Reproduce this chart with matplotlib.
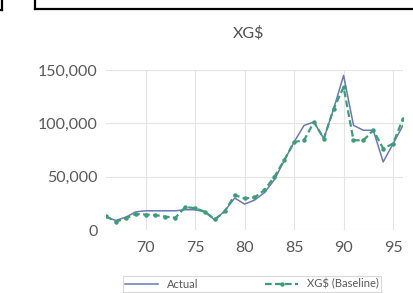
import matplotlib
matplotlib.use("Agg")
import matplotlib.pyplot as plt
from matplotlib.lines import Line2D

years = list(range(66, 97))
actual = [12000, 9000, 12000, 17000, 18000, 18000, 18000, 18000, 19000, 19000,
          17000, 9300, 18000, 30000, 24300, 28000, 35000, 47000, 65000, 82500,
          98000, 101200, 85700, 113700, 144900, 98100, 93500, 93500, 63800, 81000,
          98100]
baseline = [13000, 7800, 11000, 15000, 14500, 14000, 12500, 11500, 21500, 20500,
            17000, 10000, 17500, 32700, 29600, 30500, 37400, 49800, 65400, 82500,
            84100, 101200, 85700, 113700, 134000, 84100, 84100, 93500, 76400, 81000,
            104400]
yticks = [0, 50000, 100000, 150000]
ytick_labels = ["0", "50,000", "100,000", "150,000"]
xticks = [70, 75, 80, 85, 90, 95]
title = "XG$"
series_names = ["Actual", "XG$ (Baseline)"]

W, H = 414, 293
fig = plt.figure(figsize=(W / 100, H / 100), dpi=100)
plt.rcParams['font.family'] = ['Lato', 'DejaVu Sans']

def fx(px):
    return px / W

def fy(py):
    return 1 - py / H

ax = fig.add_axes([fx(106), fy(230), fx(403) - fx(106), fy(70) - fy(230)])
ax.set_xlim(66, 96)
ax.set_ylim(0, 150000)

for v in xticks:
    ax.axvline(v, color='#e4e4e4', lw=0.8, zorder=0)
for v in yticks:
    ax.axhline(v, color='#e4e4e4', lw=0.8, zorder=0)

ax.plot(years, actual, color='#6b78b4', lw=1.1, zorder=3, label=series_names[0])
ax.plot(years, baseline, color='#3f9c7a', lw=1.6, ls=(0, (3, 1.5)), marker='o',
        markersize=2.2, zorder=4, label=series_names[1])

ax.set_yticks(yticks)
ax.set_yticklabels(ytick_labels)
ax.set_xticks(xticks)
ax.set_xticklabels([str(v) for v in xticks])
ax.tick_params(axis='both', length=0, labelsize=11.5, colors='#595959')
ax.tick_params(axis='y', pad=6)
ax.tick_params(axis='x', pad=8)
for s in ax.spines.values():
    s.set_visible(False)

fig.text(fx(249), fy(33), title, ha='center', va='center', fontsize=11.5, color='#505050')

leg = fig.legend(handles=ax.get_lines()[-2:], labels=series_names, loc='lower center',
                 bbox_to_anchor=(fx(252), fy(292)), ncol=2, fontsize=8,
                 frameon=True, fancybox=False, edgecolor='#d0d0d0',
                 handlelength=3.0, columnspacing=6.0, borderpad=0.2,
                 borderaxespad=0.0, labelcolor='#595959')
leg.get_frame().set_linewidth(0.8)

# screenshot decorations at the top
fig.add_artist(Line2D([fx(35), fx(414)], [fy(9), fy(9)], color='black', lw=1.6))
fig.add_artist(Line2D([fx(35), fx(35)], [fy(0), fy(9)], color='black', lw=1.6))
fig.add_artist(Line2D([fx(2), fx(2)], [fy(0), fy(10)], color='black', lw=1.6))
fig.add_artist(Line2D([fx(0), fx(2)], [fy(10), fy(10)], color='black', lw=1.6))

fig.savefig("out.png", dpi=100)
